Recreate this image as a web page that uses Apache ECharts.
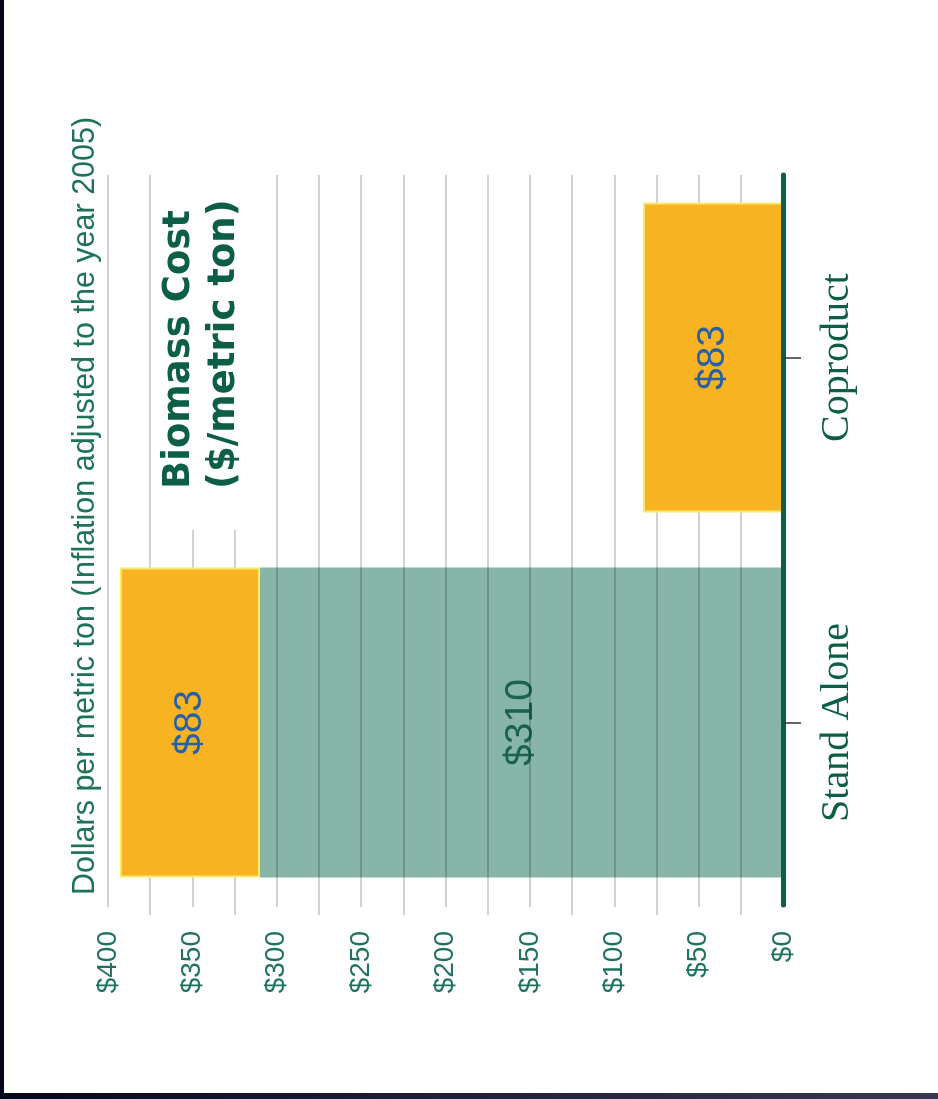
<!DOCTYPE html>
<html>
<head>
<meta charset="utf-8">
<script src="https://cdn.jsdelivr.net/npm/echarts@6/dist/echarts.min.js"></script>
<style>
  html, body { margin: 0; padding: 0; }
  body {
    width: 938px; height: 1099px; overflow: hidden;
    background: linear-gradient(90deg, #06061a 0%, #1c1b35 40%, #3b3553 100%);
  }
  #chart {
    position: absolute; left: 4px; top: 0;
    width: 934px; height: 1093px;
    background: #fff;
  }
</style>
</head>
<body>
<div id="chart"></div>
<script>
// categories run bottom -> top on the rotated chart
var categories = ['Stand Alone', 'Coproduct']
var otherCost = [310, 0]
var biomassCost = [83, 83]
var valueMin = 0
var valueMax = 400
var valueStep = 50

var green = '#0d5e46'
var tickGreen = '#1f7262'
var gridColor = 'rgba(0,0,0,0.24)'

var chart = echarts.init(document.getElementById('chart'))

var option = {
  animation: false,
  grid: { left: 104, right: 155, top: 175, bottom: 188 },
  xAxis: {
    type: 'value',
    inverse: true,
    min: valueMin,
    max: valueMax,
    interval: valueStep,
    z: 2,
    axisLine: { show: false },
    axisTick: { show: true, length: 2, lineStyle: { color: gridColor, width: 1.5 } },
    minorTick: { show: true, splitNumber: 2, length: 10, lineStyle: { color: gridColor, width: 1.5 } },
    splitLine: { show: true, lineStyle: { color: gridColor, width: 1.5 } },
    minorSplitLine: { show: true, lineStyle: { color: gridColor, width: 1.5 } },
    axisLabel: {
      rotate: 90,
      margin: 26,
      color: tickGreen,
      fontFamily: 'Liberation Sans',
      fontSize: 28,
      formatter: function (v) { return '$' + v }
    }
  },
  yAxis: {
    type: 'category',
    position: 'right',
    data: categories,
    z: 4,
    axisLine: { show: true, lineStyle: { color: green, width: 5 } },
    axisTick: { show: true, alignWithLabel: true, length: 18, lineStyle: { color: '#333', width: 1.5 } },
    splitLine: { show: false },
    axisLabel: {
      rotate: 90,
      margin: 34,
      color: green,
      fontFamily: 'Liberation Serif',
      fontSize: 40
    }
  },
  series: [
    {
      name: 'Other cost',
      type: 'bar',
      stack: 'cost',
      z: 1,
      barWidth: 310,
      data: otherCost,
      itemStyle: { color: '#87b5a8' },
      label: {
        show: true,
        position: 'inside',
        rotate: 90,
        color: '#19634f',
        fontFamily: 'Liberation Sans',
        fontSize: 39,
        formatter: function (p) { return p.value > 0 ? '$' + p.value : '' }
      }
    },
    {
      name: 'Biomass cost',
      type: 'bar',
      stack: 'cost',
      z: 3,
      barWidth: 310,
      data: biomassCost,
      itemStyle: { color: '#f8b322', borderColor: '#f4ec70', borderWidth: 2 },
      label: {
        show: true,
        position: 'inside',
        rotate: 90,
        color: '#2461aa',
        fontFamily: 'Liberation Sans',
        fontSize: 39,
        formatter: function (p) { return '$' + p.value }
      }
    }
  ],
  graphic: [
    {
      type: 'rect',
      z: 5,
      shape: { x: 154, y: 168, width: 110, height: 362 },
      style: { fill: '#fff' }
    },
    {
      type: 'text',
      z: 6,
      x: 66,
      y: 895,
      rotation: Math.PI / 2,
      style: {
        text: 'Dollars per metric ton (Inflation adjusted to the year 2005)',
        fontFamily: 'Liberation Sans',
        fontSize: 30.5,
        fill: '#1d7257',
        align: 'left',
        verticalAlign: 'top'
      }
    },
    {
      type: 'text',
      z: 6,
      x: 153,
      y: 489,
      rotation: Math.PI / 2,
      style: {
        text: 'Biomass Cost\n($/metric ton)',
        fontFamily: 'DejaVu Sans',
        fontWeight: 'bold',
        fontSize: 37,
        lineHeight: 45,
        fill: '#0d5e46',
        align: 'left',
        verticalAlign: 'top'
      }
    }
  ]
}

chart.setOption(option)
</script>
</body>
</html>
